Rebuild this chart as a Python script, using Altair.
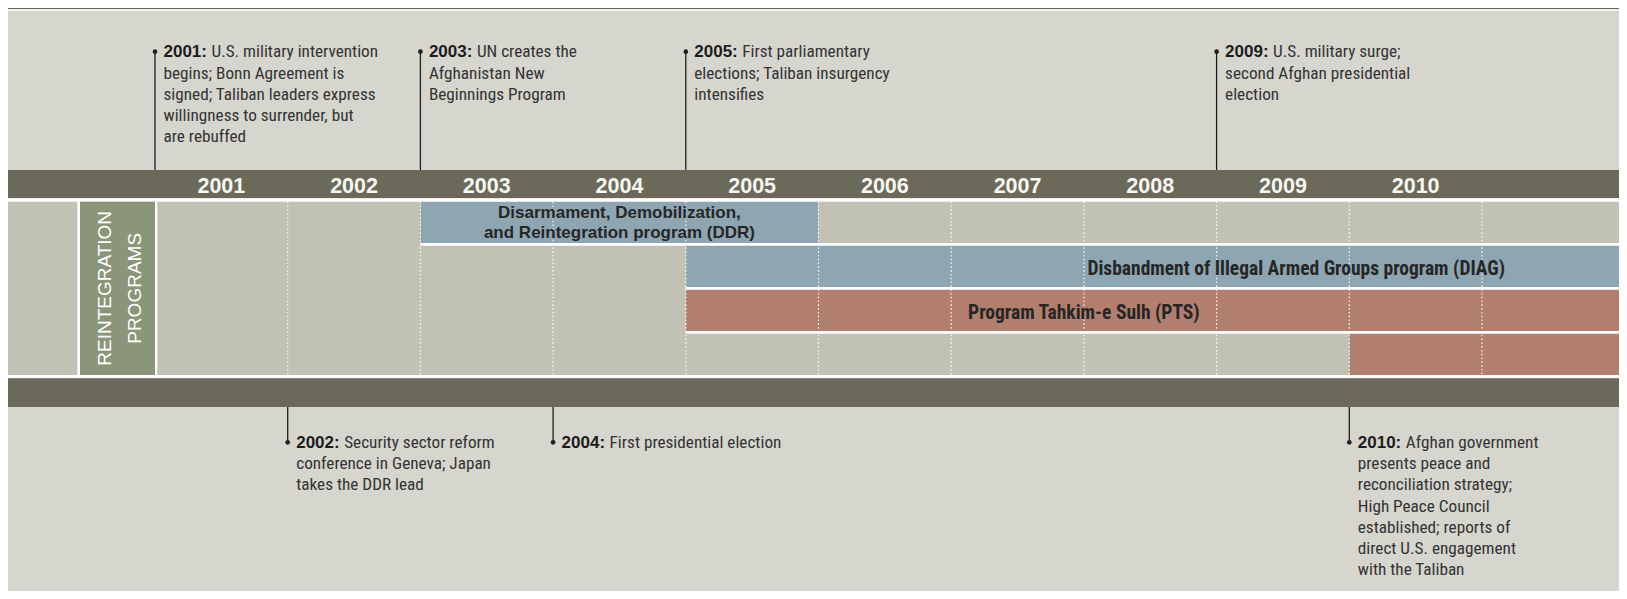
import altair as alt
import pandas as pd

# ---------------- values ----------------
column_years = [2001, 2002, 2003, 2004, 2005, 2006, 2007, 2008, 2009, 2010]
divider_years = [2002, 2003, 2004, 2005, 2006, 2007, 2008, 2009, 2010, 2011]

program_label = [
    "Disarmament, Demobilization,\nand Reintegration program (DDR)",
    "Disbandment of Illegal Armed Groups program (DIAG)",
    "Program Tahkim-e Sulh (PTS)",
    "",
]
program_start = [2003, 2005, 2005, 2010]
program_end = [2006, 2013, 2013, 2013]          # 2013 = still running past the right edge
program_row = [1, 2, 3, 4]
program_kind = ["disarmament", "disarmament", "reconciliation", "reconciliation"]
program_label_year = [2004.5, 2009.6, 2008.0, 2011.0]

panel_title = ["REINTEGRATION", "PROGRAMS"]

event_year = [2001, 2003, 2005, 2009, 2002, 2004, 2010]
event_side = ["above", "above", "above", "above", "below", "below", "below"]
event_text = [
    ["U.S. military intervention", "begins; Bonn Agreement is",
     "signed; Taliban leaders express", "willingness to surrender, but", "are rebuffed"],
    ["UN creates the", "Afghanistan New", "Beginnings Program"],
    ["First parliamentary", "elections; Taliban insurgency", "intensifies"],
    ["U.S. military surge;", "second Afghan presidential", "election"],
    ["Security sector reform", "conference in Geneva; Japan", "takes the DDR lead"],
    ["First presidential election"],
    ["Afghan government", "presents peace and", "reconciliation strategy;",
     "High Peace Council", "established; reports of", "direct U.S. engagement",
     "with the Taliban"],
]

# ---------------- styles / layout ----------------
DARK = "#6b6a5a"
LIGHT = "#d6d5ce"
PROG_BG = "#c1c2b4"
KIND_COLOR = {"disarmament": "#8ea5b2", "reconciliation": "#b27f6f"}
GREEN = "#8b957a"
INK = "#1f1f1f"
TEXT = "#333333"
NARROW = "Liberation Sans Narrow, Arial Narrow, Roboto Condensed, DejaVu Sans Condensed, sans-serif"
SANS = "Liberation Sans, Arial, sans-serif"

W, H = 1611, 583
MARGIN = 8
YEAR0_PX = 155.0      # page x where 2001 starts
YEAR_PX = 132.7       # width of one year
X0 = 2001 - (YEAR0_PX - MARGIN) / YEAR_PX
X1 = X0 + W / YEAR_PX

xs = alt.Scale(domain=[X0, X1], nice=False, zero=False)
ys = alt.Scale(domain=[MARGIN, MARGIN + H], reverse=True, nice=False, zero=False)


def xq(f="x"):
    return alt.X(f"{f}:Q", scale=xs, axis=None)


def yq(f="y"):
    return alt.Y(f"{f}:Q", scale=ys, axis=None)


PROG_TOP, PROG_BOTTOM = 201.7, 375.0
ROW_STEP, ROW_H, GAP = 44.0, 41.3, 2.7
MULTI_SIZE, MULTI_LH = 17, 20.5
BODY_SIZE, BODY_LH = 17.2, 21.2

# background bands
bands = pd.DataFrame({
    "x": X0, "x2": X1,
    "y": [8, 9.2, 170, 198.3, PROG_TOP, 378.3],
    "y2": [9.2, 10.8, 198.3, 378.3, PROG_BOTTOM, 407],
    "fill": [DARK, "#ffffff", DARK, "#ffffff", PROG_BG, DARK],
})
band_layer = alt.Chart(bands).mark_rect().encode(
    x=xq(), x2="x2:Q", y=yq(), y2="y2:Q", color=alt.Color("fill:N", scale=None))

# left panel
panel_df = pd.DataFrame({"y": [PROG_TOP], "y2": [PROG_BOTTOM]})
panel_white = alt.Chart(panel_df).mark_rect(color="#ffffff").encode(
    x=alt.value(77.3 - MARGIN), x2=alt.value(157.3 - MARGIN), y=yq(), y2="y2:Q")
panel_green = alt.Chart(panel_df).mark_rect(color=GREEN).encode(
    x=alt.value(80 - MARGIN), x2=alt.value(155 - MARGIN), y=yq(), y2="y2:Q")
panel_texts = []
for t, px in zip(panel_title, [105.0, 134.8]):
    panel_texts.append(
        alt.Chart(pd.DataFrame({"t": [t], "y": [(PROG_TOP + PROG_BOTTOM) / 2]}))
        .mark_text(angle=270, align="center", baseline="middle", font=SANS,
                   fontSize=19, color="#ffffff")
        .encode(x=alt.value(px - MARGIN), y=yq(), text="t:N"))

# programs
prog = pd.DataFrame({
    "label": program_label, "start": program_start, "end": program_end,
    "row": program_row, "kind": program_kind, "lx": program_label_year,
})
prog["top"] = PROG_TOP + (prog["row"] - 1) * ROW_STEP
prog["bottom"] = prog["top"] + ROW_H
prog["center"] = (prog["top"] + prog["bottom"]) / 2
prog["wtop"] = prog["top"] - GAP
prog["wbottom"] = prog["bottom"] + GAP
prog["fill"] = prog["kind"].map(KIND_COLOR)
prog["nlines"] = prog["label"].str.count("\n") + 1

bar_white = alt.Chart(prog).mark_rect(color="#ffffff", clip=True).encode(
    x=xq("start"), x2="end:Q", y=yq("wtop"), y2="wbottom:Q")
bar_fill = alt.Chart(prog).mark_rect(clip=True).encode(
    x=xq("start"), x2="end:Q", y=yq("top"), y2="bottom:Q",
    color=alt.Color("fill:N", scale=None))

# dotted year dividers
div_df = pd.DataFrame({"x": divider_years, "y": PROG_TOP, "y2": PROG_BOTTOM})
dividers = alt.Chart(div_df).mark_rule(color="#ffffff", strokeWidth=1.2,
                                       strokeDash=[1.6, 2.2], opacity=0.9).encode(
    x=xq(), y=yq(), y2="y2:Q")

single = prog[(prog["nlines"] == 1) & (prog["label"] != "")].copy()
single["ly"] = single["center"] + 8.8
multi = prog[prog["nlines"] > 1].copy()
multi["ly"] = multi["center"] - (multi["nlines"] - 1) * MULTI_LH / 2 + 5.6

labels_single = alt.Chart(single).mark_text(
    align="center", baseline="alphabetic", font=NARROW, fontSize=19.5,
    fontWeight="bold", color="#262626").encode(
    x=xq("lx"), y=yq("ly"), text="label:N")
labels_multi = alt.Chart(multi).mark_text(
    align="center", baseline="alphabetic", font=SANS, fontSize=MULTI_SIZE,
    fontWeight="bold", color="#262626", lineBreak="\n", lineHeight=MULTI_LH).encode(
    x=xq("lx"), y=yq("ly"), text="label:N")

# year labels
yl = pd.DataFrame({"x": [y + 0.5 for y in column_years],
                   "t": [str(y) for y in column_years], "y": 192.7})
year_labels = alt.Chart(yl).mark_text(
    align="center", baseline="alphabetic", font=SANS, fontSize=21.5,
    fontWeight="bold", color="#f7f7f2").encode(x=xq(), y=yq(), text="t:N")

# events
ev = pd.DataFrame({"x": event_year, "side": event_side})
ev["dot"] = ev["side"].map({"above": 51.7, "below": 442.3})
ev["end"] = ev["side"].map({"above": 170.0, "below": 407.0})
ev["prefix"] = [f"{y}:" for y in event_year]
ev["first"] = [lines[0] for lines in event_text]
ev["rest"] = ["\n".join(lines[1:]) for lines in event_text]

ev_rules = alt.Chart(ev).mark_rule(color=INK, strokeWidth=1.3).encode(
    x=xq(), y=yq("dot"), y2="end:Q")
ev_dots = alt.Chart(ev).mark_circle(color=INK, opacity=1, size=22).encode(
    x=xq(), y=yq("dot"))
ev_prefix = alt.Chart(ev).mark_text(
    align="left", baseline="alphabetic", dx=8.5, dy=5.7, font=SANS, fontSize=17,
    fontWeight="bold", color="#1c1c1c").encode(x=xq(), y=yq("dot"), text="prefix:N")
ev_first = alt.Chart(ev).mark_text(
    align="left", baseline="alphabetic", dx=56.5, dy=5.7, font=NARROW,
    fontSize=BODY_SIZE, color=TEXT).encode(x=xq(), y=yq("dot"), text="first:N")
ev_rest = alt.Chart(ev).mark_text(
    align="left", baseline="alphabetic", dx=8.5, dy=5.7 + BODY_LH, font=NARROW,
    fontSize=BODY_SIZE, color=TEXT, lineBreak="\n", lineHeight=BODY_LH).encode(
    x=xq(), y=yq("dot"), text="rest:N")

chart = alt.layer(
    band_layer, panel_white, panel_green, *panel_texts,
    bar_white, bar_fill, dividers, labels_single, labels_multi, year_labels,
    ev_rules, ev_dots, ev_prefix, ev_first, ev_rest,
).properties(
    width=W, height=H, padding=0, background=LIGHT
).configure_view(stroke=None)

chart.save("out.html", embed_options={"renderer": "svg", "actions": False})
